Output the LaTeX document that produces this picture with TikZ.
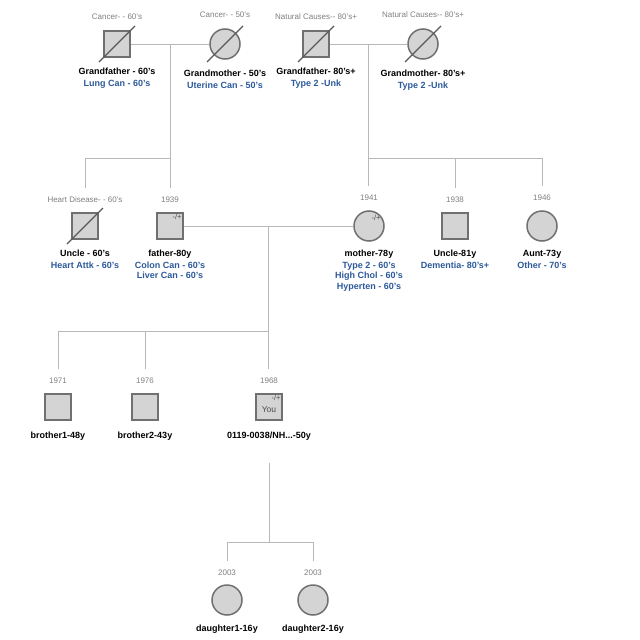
\documentclass[tikz,border=0pt]{standalone}
\usepackage{fontspec}
\setmainfont{Liberation Sans}
\usetikzlibrary{positioning,calc}
\definecolor{shapefill}{RGB}{212,212,212}
\definecolor{shapeline}{RGB}{112,112,112}
\definecolor{linkgray}{RGB}{184,184,184}
\definecolor{notegray}{RGB}{128,128,128}
\definecolor{infoblue}{RGB}{45,90,155}
\newcommand\dead[1]{\draw[slash] ($(#1.center)+(-18pt,-18pt)$) -- ($(#1.center)+(18pt,18pt)$);}
\newcommand\info[1]{\textcolor{infoblue}{#1}}

\begin{document}
\begin{tikzpicture}[x=1pt,y=-1pt,
  male/.style={draw=shapeline,fill=shapefill,line width=1.5pt,minimum size=26pt,inner sep=0pt},
  female/.style={male,circle,minimum size=30pt},
  yr/.style={text=notegray,font=\fontsize{8}{9.6}\selectfont,inner sep=0pt},
  nm/.style={font=\bfseries\fontsize{9}{10.5}\selectfont,align=center,inner sep=0pt},
  tag/.style={text=black!70,font=\fontsize{7.5}{8}\selectfont,inner sep=0pt},
  link/.style={draw=linkgray,line width=0.8pt},
  slash/.style={draw=black!65,line width=1.3pt}]
\useasboundingbox[fill=white] (0,0) rectangle (640,640);

\node[male] (gfa) at (117,44) {};
\node[female] (gma) at (225,44) {};
\node[male] (gfb) at (316,44) {};
\node[female] (gmb) at (423,44) {};
\node[male] (uncle1) at (85,226) {};
\node[male] (father) at (170,226) {};
\node[female] (mother) at (369,226) {};
\node[male] (uncle2) at (455,226) {};
\node[female] (aunt) at (542,226) {};
\node[male] (bro1) at (58,407) {};
\node[male] (bro2) at (145,407) {};
\node[male] (you) at (269,407) {};
\node[female] (dau1) at (227,600) {};
\node[female] (dau2) at (313,600) {};

\dead{gfa} \dead{gma} \dead{gfb} \dead{gmb} \dead{uncle1}

\node[yr,above=10pt of gfa] (gfayr) {Cancer- - 60's};
\node[yr,above=10pt of gma] (gmayr) {Cancer- - 50's};
\node[yr,above=10pt of gfb] (gfbyr) {Natural Causes-{}- 80's+};
\node[yr,above=10pt of gmb] (gmbyr) {Natural Causes-{}- 80's+};
\node[yr,above=9pt of uncle1] (u1yr) {Heart Disease- - 60's};
\node[yr,above=9pt of father] (fayr) {1939};
\node[yr,above=9pt of mother] (moyr) {1941};
\node[yr,above=9pt of uncle2] (u2yr) {1938};
\node[yr,above=9pt of aunt] (auyr) {1946};
\node[yr,above=9pt of bro1] (b1yr) {1971};
\node[yr,above=9pt of bro2] (b2yr) {1976};
\node[yr,above=9pt of you] (youyr) {1968};
\node[yr,above=8pt of dau1] (d1yr) {2003};
\node[yr,above=8pt of dau2] (d2yr) {2003};

\node[nm,below=10pt of gfa] (gfanm) {Grandfather - 60's\\[1.5pt]\info{Lung Can - 60's}};
\node[nm,below=10pt of gma] (gmanm) {Grandmother - 50's\\[1.5pt]\info{Uterine Can - 50's}};
\node[nm,below=10pt of gfb] (gfbnm) {Grandfather- 80's+\\[1.5pt]\info{Type 2 -Unk}};
\node[nm,below=10pt of gmb] (gmbnm) {Grandmother- 80's+\\[1.5pt]\info{Type 2 -Unk}};
\node[nm,below=10pt of uncle1] (u1nm) {Uncle - 60's\\[1.5pt]\info{Heart Attk - 60's}};
\node[nm,below=10pt of father] (fanm) {father-80y\\[1.5pt]\info{Colon Can - 60's}\\\info{Liver Can - 60's}};
\node[nm,below=8pt of mother] (monm) {mother-78y\\[1.5pt]\info{Type 2 - 60's}\\\info{High Chol - 60's}\\\info{Hyperten - 60's}};
\node[nm,below=10pt of uncle2] (u2nm) {Uncle-81y\\[1.5pt]\info{Dementia- 80's+}};
\node[nm,below=8pt of aunt] (aunm) {Aunt-73y\\[1.5pt]\info{Other - 70's}};
\node[nm,below=11pt of bro1] (b1nm) {brother1-48y};
\node[nm,below=11pt of bro2] (b2nm) {brother2-43y};
\node[nm,below=11pt of you] (younm) {0119-0038/NH...-50y};
\node[nm,below=9pt of dau1] (d1nm) {daughter1-16y};
\node[nm,below=9pt of dau2] (d2nm) {daughter2-16y};

\node[tag,anchor=north east] (fatag) at ([shift={(-2pt,-2pt)}]father.north east) {-/+};
\node[tag] (motag) at ([shift={(7pt,8pt)}]mother.center) {-/+};
\node[tag,anchor=north east] (youtag) at ([shift={(-2pt,-2pt)}]you.north east) {-/+};
\node[tag,font=\fontsize{8.5}{9}\selectfont] (youtxt) at ([shift={(0pt,-3pt)}]you.center) {You};

\coordinate (m1) at ($(gfa.east)!.5!(gma.west)$);
\coordinate (m2) at ($(gfb.east)!.5!(gmb.west)$);
\coordinate (m3) at ($(father.east)!.5!(mother.west)$);
\coordinate (h1) at (0,158);
\coordinate (h2) at (0,331);
\coordinate (h3) at (0,542);
\coordinate (b4) at (you |- h3);

\draw[link] (gfa.east) -- (gma.west);
\draw[link] (gfb.east) -- (gmb.west);
\draw[link] (father.east) -- (mother.west);
\draw[link,shorten >=9pt] (m1) -- (m1 |- fayr.north);
\draw[link,shorten >=9pt] (m1 |- h1) -| (u1yr.north);
\draw[link,shorten >=9pt] (m2) -- (m2 |- moyr.north);
\draw[link,shorten >=9pt] (m2 |- h1) -| (u2yr.north);
\draw[link,shorten >=9pt] (m2 |- h1) -| (auyr.north);
\draw[link,shorten >=9pt] (m3) -- (m3 |- youyr.north);
\draw[link,shorten >=9pt] (m3 |- h2) -| (b1yr.north);
\draw[link,shorten >=9pt] (m3 |- h2) -| (b2yr.north);
\draw[link,shorten <=22pt] (younm.south) -- (b4);
\draw[link,shorten >=9pt] (b4) -| (d1yr.north);
\draw[link,shorten >=9pt] (b4) -| (d2yr.north);
\end{tikzpicture}
\end{document}
